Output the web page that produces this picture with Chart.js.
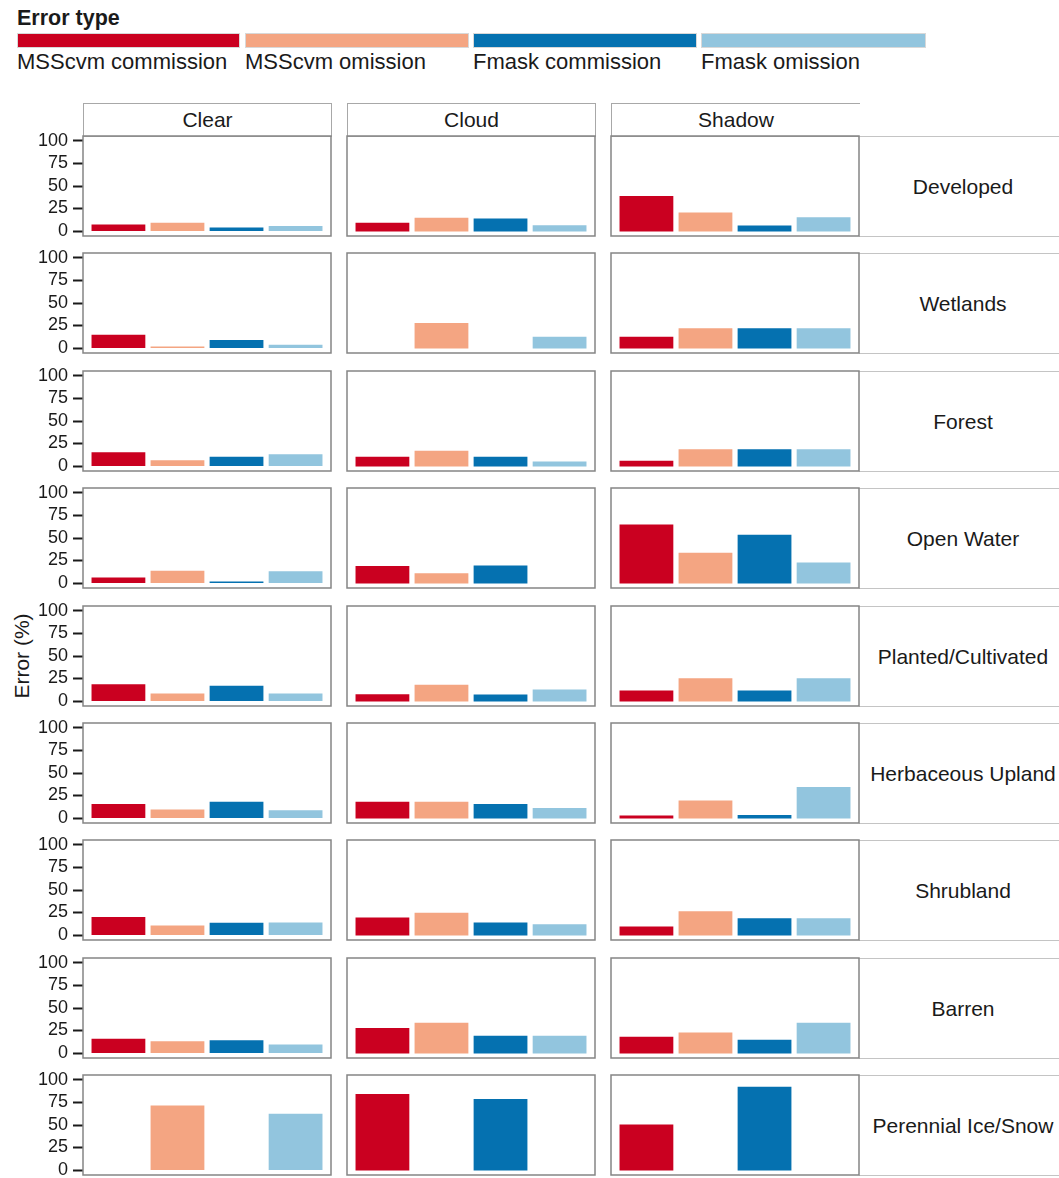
<!DOCTYPE html>
<html>
<head>
<meta charset="utf-8">
<title>Error by land cover and pixel type</title>
<script src="https://cdn.jsdelivr.net/npm/chart.js@4.4.1/dist/chart.umd.min.js"></script>
<style>
  body { margin: 0; background: #fff; }
  #wrap {
    position: relative; width: 1059px; height: 1178px; overflow: hidden;
    font-family: "Liberation Sans", Arial, sans-serif; color: #1a1a1a; background: #fff;
  }
  .txt { position: absolute; white-space: nowrap; line-height: 24px; height: 24px; }
  .key { position: absolute; box-sizing: border-box; border: 1px solid #d8d8d8; }
  .strip {
    position: absolute; box-sizing: border-box; background: #fff;
    display: flex; align-items: center; justify-content: center;
    font-size: 21px; white-space: nowrap;
  }
  canvas { position: absolute; }
</style>
</head>
<body>
<div id="wrap"></div>
<script>
// ---- data ----
const errorTypes = ['MSScvm commission', 'MSScvm omission', 'Fmask commission', 'Fmask omission'];
const errorColors = ['#CA0020', '#F4A582', '#0571B0', '#92C5DE'];
const pixelTypes = ['Clear', 'Cloud', 'Shadow'];
const landCovers = ['Developed', 'Wetlands', 'Forest', 'Open Water', 'Planted/Cultivated',
                    'Herbaceous Upland', 'Shrubland', 'Barren', 'Perennial Ice/Snow'];
const yTicks = [0, 25, 50, 75, 100];

// Error (%) for each pixel type (Clear, Cloud, Shadow), in errorTypes order
const developed  = [[7.0, 8.8, 3.7, 5.1],   [8.8, 14.3, 13.6, 6.2],   [38.5, 20.1, 5.9, 15.0]];
const wetlands   = [[14.5, 1.4, 8.7, 3.3],  [null, 27.5, null, 12.3], [12.3, 21.7, 21.7, 21.7]];
const forest     = [[15.0, 6.2, 9.9, 12.8], [9.9, 16.5, 9.9, 4.8],    [5.5, 18.3, 18.3, 18.3]];
const openWater  = [[5.8, 13.4, 1.4, 12.7], [18.5, 10.5, 19.2, null], [64.5, 33.3, 53.3, 22.5]];
const planted    = [[18.3, 8.1, 16.5, 8.1], [7.3, 17.6, 7.0, 12.5],   [11.4, 24.9, 11.4, 24.9]];
const herbaceous = [[15.2, 9.1, 17.8, 8.3], [17.8, 17.8, 15.2, 10.9], [2.5, 19.2, 2.9, 34.1]];
const shrubland  = [[19.8, 10.3, 13.2, 13.6], [19.0, 24.5, 13.6, 11.7], [9.2, 26.0, 18.3, 18.3]];
const barren     = [[15.6, 12.7, 13.8, 9.1], [27.5, 33.3, 18.8, 18.8], [17.8, 22.5, 14.5, 33.3]];
const iceSnow    = [[null, 71.4, null, 62.1], [84.0, null, 78.4, null], [50.2, null, 92.2, null]];

const panelValues = [developed, wetlands, forest, openWater, planted, herbaceous, shrubland, barren, iceSnow];

// ---- layout ----
const FONT = '"Liberation Sans", Arial, sans-serif';
const INK = '#1a1a1a';
const TICK_SIZE = 18;
const grid = { left: 83, top: 136, panelW: 247.5, panelH: 100, gapX: 16.5, rowStep: 117.4, stripTop: 103 };
const wrap = document.getElementById('wrap');

function el(cls, css, text) {
  const d = document.createElement('div');
  d.className = cls;
  Object.assign(d.style, css);
  if (text !== undefined) d.textContent = text;
  wrap.appendChild(d);
  return d;
}

// legend
el('txt', { left: '17px', top: '6px', fontSize: '21.5px', fontWeight: 'bold' }, 'Error type');
const keyX = [17, 245, 473, 701];
const keyW = [223, 224, 224, 225];
errorTypes.forEach((name, i) => {
  el('key', { left: keyX[i] + 'px', top: '33px', width: keyW[i] + 'px', height: '15px', background: errorColors[i] });
  el('txt', { left: keyX[i] + 'px', top: '50px', fontSize: '22px' }, name);
});

// y-axis title
el('txt', { left: '22px', top: '656px', fontSize: '21px', transform: 'translate(-50%,-50%) rotate(-90deg)' }, 'Error (%)');

function colX(c) { return Math.round(grid.left + c * (grid.panelW + grid.gapX)); }
function colW(c) { return Math.round(grid.left + c * (grid.panelW + grid.gapX) + grid.panelW) - colX(c); }
function rowY(r) { return Math.round(grid.top + r * grid.rowStep); }

// column strips
pixelTypes.forEach((name, c) => {
  el('strip', {
    left: colX(c) + 'px', top: grid.stripTop + 'px', width: (colW(c) + 1) + 'px',
    height: (grid.top - grid.stripTop + 1) + 'px',
    borderTop: '1px solid #a8a8a8', borderLeft: '1px solid #a8a8a8',
    borderRight: c < pixelTypes.length - 1 ? '1px solid #a8a8a8' : 'none',
    borderBottom: '1px solid #a8a8a8'
  }, name);
});

// row strips
const stripRightX = colX(2) + colW(2);
landCovers.forEach((name, r) => {
  el('strip', {
    left: stripRightX + 'px', top: rowY(r) + 'px', width: '208px', height: (grid.panelH + 1) + 'px',
    borderTop: '1px solid #c4c4c4', borderBottom: '1px solid #c4c4c4'
  }, name);
});

// frame around each plotting area
const panelFrame = {
  id: 'panelFrame',
  afterDraw(chart) {
    const { ctx, chartArea: a } = chart;
    ctx.save();
    ctx.strokeStyle = '#858585';
    ctx.lineWidth = 1.5;
    ctx.strokeRect(a.left, a.top, a.right - a.left, a.bottom - a.top);
    ctx.restore();
  }
};

const PAD = 12;
landCovers.forEach((lc, r) => {
  pixelTypes.forEach((pt, c) => {
    const x0 = colX(c), w = colW(c), y0 = rowY(r), h = grid.panelH;
    const withAxis = c === 0;
    const cLeft = withAxis ? 0 : x0 - PAD;
    const cw = x0 + w + PAD - cLeft;
    const ch = h + 2 * PAD;
    const canvas = document.createElement('canvas');
    canvas.width = cw; canvas.height = ch;
    canvas.style.left = cLeft + 'px';
    canvas.style.top = (y0 - PAD) + 'px';
    canvas.style.width = cw + 'px';
    canvas.style.height = ch + 'px';
    wrap.appendChild(canvas);

    const vals = panelValues[r][c];
    const yScale = {
      min: -5.5, max: 105.5,
      display: withAxis,
      afterBuildTicks: s => { s.ticks = yTicks.map(v => ({ value: v })); },
      border: { display: false },
      grid: { drawOnChartArea: false, drawTicks: true, tickLength: 10, tickColor: INK, tickWidth: 2 },
      ticks: { autoSkip: false, color: INK, padding: 5, font: { family: FONT, size: TICK_SIZE } }
    };
    if (withAxis) {
      // fixed axis width; tick labels sit in the canvas margin, so the plot keeps its full height
      yScale.afterFit = s => { s.width = x0; s.paddingTop = 0; s.paddingBottom = 0; };
    }

    new Chart(canvas, {
      type: 'bar',
      data: {
        datasets: [{
          label: lc + ' / ' + pt,
          data: vals.map((v, i) => ({ x: i, y: v })),
          backgroundColor: errorColors,
          borderWidth: 0,
          barThickness: w / 4.2 * 0.9
        }]
      },
      options: {
        responsive: false,
        animation: false,
        devicePixelRatio: 1,
        layout: { padding: { left: withAxis ? 0 : PAD, right: PAD, top: PAD, bottom: PAD } },
        plugins: { legend: { display: false }, tooltip: { enabled: false } },
        scales: {
          x: { type: 'linear', min: -0.6, max: 3.6, offset: false, display: false },
          y: yScale
        }
      },
      plugins: [panelFrame]
    });
  });
});
</script>
</body>
</html>
